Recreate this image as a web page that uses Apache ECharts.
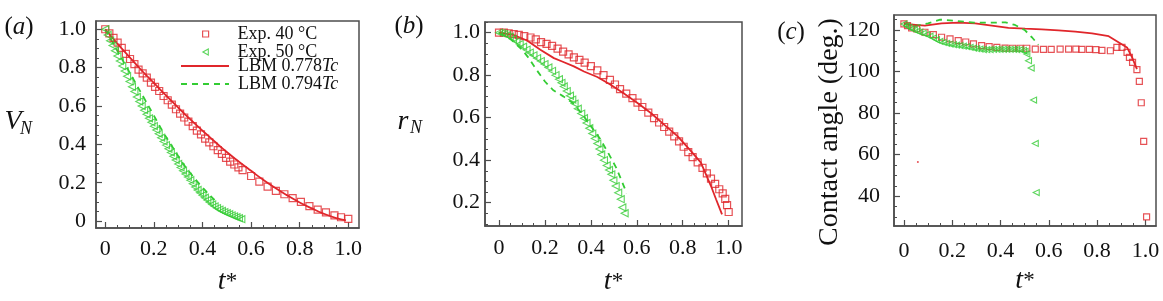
<!DOCTYPE html>
<html>
<head>
<meta charset="utf-8">
<script src="https://cdn.jsdelivr.net/npm/echarts@6/dist/echarts.min.js"></script>
<style>
html, body { margin: 0; padding: 0; background: #fff; }
#chart { width: 1163px; height: 301px; }
</style>
</head>
<body>
<div id="chart"></div>
<script>
// ---- data: [t*, value] ----
// (a) normalised volume
var volExp40 = [[0,1.0],[0.017,0.978],[0.034,0.955],[0.051,0.93],[0.068,0.903],[0.085,0.872],[0.102,0.845],[0.12,0.818],[0.137,0.79],[0.154,0.77],[0.171,0.748],[0.188,0.722],[0.205,0.70],[0.222,0.678],[0.24,0.652],[0.257,0.63],[0.274,0.607],[0.291,0.583],[0.308,0.56],[0.325,0.54],[0.342,0.518],[0.36,0.495],[0.377,0.472],[0.394,0.452],[0.411,0.43],[0.428,0.41],[0.445,0.39],[0.463,0.37],[0.48,0.35],[0.497,0.33],[0.514,0.31],[0.531,0.295],[0.548,0.28],[0.565,0.266],[0.6,0.235],[0.634,0.206],[0.668,0.18],[0.702,0.158],[0.737,0.14],[0.771,0.12],[0.805,0.1],[0.84,0.078],[0.874,0.06],[0.908,0.045],[0.943,0.03],[0.97,0.02],[1.0,0.012]];
var volExp50 = [[0,1.0],[0.01,0.97],[0.02,0.94],[0.03,0.915],[0.04,0.888],[0.05,0.86],[0.06,0.835],[0.07,0.808],[0.08,0.782],[0.09,0.755],[0.1,0.728],[0.11,0.70],[0.12,0.675],[0.13,0.647],[0.14,0.623],[0.15,0.60],[0.16,0.578],[0.17,0.557],[0.18,0.536],[0.19,0.515],[0.2,0.495],[0.21,0.475],[0.22,0.455],[0.23,0.435],[0.24,0.415],[0.25,0.396],[0.26,0.377],[0.27,0.358],[0.28,0.338],[0.29,0.318],[0.3,0.298],[0.31,0.28],[0.32,0.263],[0.33,0.246],[0.34,0.23],[0.35,0.213],[0.36,0.195],[0.37,0.178],[0.38,0.162],[0.39,0.148],[0.4,0.135],[0.41,0.122],[0.42,0.11],[0.43,0.098],[0.44,0.087],[0.45,0.077],[0.46,0.068],[0.47,0.06],[0.48,0.053],[0.49,0.047],[0.5,0.041],[0.51,0.036],[0.52,0.03],[0.53,0.025],[0.54,0.02],[0.55,0.015],[0.56,0.01]];
var volLbm778 = [[0,1],[0.05,0.925],[0.1,0.855],[0.15,0.785],[0.2,0.72],[0.25,0.655],[0.3,0.592],[0.35,0.53],[0.4,0.472],[0.45,0.415],[0.5,0.36],[0.55,0.31],[0.6,0.262],[0.65,0.215],[0.7,0.172],[0.75,0.133],[0.8,0.097],[0.85,0.066],[0.9,0.038],[0.95,0.016],[0.99,0.004]];
var volLbm794 = [[0,1],[0.04,0.91],[0.08,0.82],[0.12,0.73],[0.16,0.64],[0.2,0.55],[0.24,0.46],[0.28,0.38],[0.32,0.30],[0.36,0.235],[0.4,0.175],[0.45,0.11]];

// (b) normalised contact radius
var radExp40 = [[0,1.0],[0.021,1.0],[0.042,0.997],[0.064,0.993],[0.086,0.989],[0.11,0.984],[0.137,0.977],[0.16,0.968],[0.183,0.955],[0.207,0.947],[0.231,0.938],[0.255,0.925],[0.279,0.911],[0.303,0.898],[0.326,0.884],[0.35,0.872],[0.373,0.859],[0.4,0.842],[0.428,0.822],[0.455,0.8],[0.483,0.778],[0.505,0.756],[0.527,0.734],[0.554,0.713],[0.581,0.692],[0.603,0.671],[0.624,0.65],[0.65,0.624],[0.675,0.598],[0.697,0.577],[0.719,0.556],[0.741,0.534],[0.763,0.512],[0.784,0.488],[0.804,0.463],[0.824,0.438],[0.843,0.414],[0.865,0.389],[0.886,0.364],[0.905,0.338],[0.923,0.313],[0.941,0.288],[0.959,0.263],[0.974,0.244],[0.985,0.218],[0.993,0.188],[1.0,0.156]];
var radExp50 = [[0,1.0],[0.012,0.998],[0.023,0.994],[0.035,0.988],[0.047,0.981],[0.061,0.97],[0.076,0.958],[0.09,0.946],[0.105,0.934],[0.12,0.92],[0.134,0.906],[0.15,0.893],[0.166,0.88],[0.182,0.866],[0.198,0.852],[0.215,0.836],[0.231,0.82],[0.246,0.8],[0.261,0.781],[0.272,0.764],[0.282,0.747],[0.295,0.725],[0.309,0.703],[0.319,0.685],[0.329,0.666],[0.343,0.642],[0.358,0.619],[0.37,0.597],[0.381,0.575],[0.393,0.55],[0.406,0.525],[0.417,0.502],[0.428,0.478],[0.437,0.452],[0.445,0.427],[0.457,0.4],[0.469,0.375],[0.479,0.354],[0.489,0.333],[0.498,0.305],[0.508,0.278],[0.519,0.247],[0.53,0.216],[0.537,0.177],[0.547,0.15]];
var radLbm778 = [[0,1],[0.064,0.989],[0.122,0.963],[0.18,0.919],[0.239,0.88],[0.275,0.864],[0.326,0.841],[0.37,0.817],[0.428,0.791],[0.486,0.755],[0.544,0.713],[0.603,0.669],[0.661,0.622],[0.719,0.567],[0.777,0.513],[0.836,0.442],[0.879,0.388],[0.923,0.278],[0.945,0.216],[0.971,0.145]];
var radLbm794 = [[0,1.0],[0.05,0.97],[0.1,0.92],[0.13,0.88],[0.16,0.83],[0.2,0.77],[0.235,0.73],[0.28,0.70],[0.32,0.67],[0.36,0.62],[0.4,0.56],[0.44,0.50],[0.48,0.425],[0.51,0.365],[0.535,0.30],[0.556,0.245]];

// (c) contact angle, degrees
var angExp40 = [[0,122.9],[0.015,122.1],[0.032,121.0],[0.053,120.5],[0.087,118.9],[0.122,117.8],[0.156,116.5],[0.191,115.7],[0.225,114.9],[0.256,114.2],[0.288,113.3],[0.322,112.5],[0.353,112.0],[0.385,111.6],[0.419,111.3],[0.45,111.2],[0.481,111.2],[0.509,111.2],[0.544,110.8],[0.578,110.7],[0.61,110.7],[0.647,110.8],[0.682,110.8],[0.712,110.8],[0.737,110.7],[0.768,110.7],[0.795,110.5],[0.82,110.2],[0.855,110.0],[0.882,111.6],[0.903,111.6],[0.924,109.2],[0.934,106.8],[0.947,104.4],[0.965,100.9],[0.975,95.3],[0.983,85.0],[0.993,66.4],[1.005,30.1]];
var angExp50 = [[0,122.9],[0.011,122.0],[0.021,121.3],[0.032,120.6],[0.043,120.0],[0.055,119.4],[0.066,118.9],[0.08,118.4],[0.094,117.8],[0.108,117.0],[0.122,116.1],[0.135,115.3],[0.149,114.5],[0.163,114.0],[0.177,113.6],[0.191,113.2],[0.205,112.9],[0.218,112.7],[0.232,112.5],[0.246,112.2],[0.26,112.0],[0.274,111.6],[0.288,111.3],[0.301,111.0],[0.315,110.8],[0.329,110.6],[0.343,110.5],[0.357,110.6],[0.371,110.7],[0.385,110.7],[0.398,110.7],[0.412,110.7],[0.426,110.7],[0.44,110.7],[0.454,110.7],[0.467,110.6],[0.481,110.5],[0.495,110.2],[0.502,109.7],[0.509,108.4],[0.516,105.2],[0.527,101.7],[0.537,86.3],[0.544,65.4],[0.548,41.8]];
var angLbm778 = [[0,122.9],[0.087,122.1],[0.156,123.2],[0.225,123.5],[0.295,123.2],[0.364,122.1],[0.433,121.0],[0.502,120.6],[0.571,120.3],[0.64,119.8],[0.71,119.2],[0.779,118.4],[0.848,117.0],[0.924,111.6],[0.945,106.8],[0.965,101.2]];
var angLbm794 = [[0,122.9],[0.05,122.0],[0.1,123.2],[0.15,125.0],[0.22,124.3],[0.29,123.5],[0.38,123.5],[0.42,123.7],[0.46,122.4],[0.5,120.0],[0.53,116.5],[0.557,112.9]];
var angStray = [[0.058,56.5]];

// tick labels
var tTicks = [0, 0.2, 0.4, 0.6, 0.8, 1.0];
var volTicks = [0, 0.2, 0.4, 0.6, 0.8, 1.0];
var radTicks = [0.2, 0.4, 0.6, 0.8, 1.0];
var angTicks = [40, 60, 80, 100, 120];

var RED = '#e0262b';
var GREEN = '#33cc33';
var AXIS = '#4d4d4d';
var SERIF = 'Liberation Serif';
var TRI = 'path://M0,5L9,0L9,10Z';

function steps(from, to, step) {
    var out = [];
    for (var v = from; v <= to + 1e-9; v += step) out.push(Math.round(v * 1000) / 1000);
    return out;
}
function fmtDec(v) { return v === 0 ? '0' : v.toFixed(1); }
function fmtInt(v) { return String(Math.round(v)); }

var tName = '{t|t}{s|*}';
var tNameStyle = {
    rich: {
        t: { fontFamily: SERIF, fontStyle: 'italic', fontSize: 28, color: '#111' },
        s: { fontFamily: SERIF, fontSize: 23, color: '#111' }
    }
};

function mainAxis(pos, grid, range, ticks, fmt, margin) {
    return {
        type: 'value', gridIndex: grid, position: pos, min: range[0], max: range[1],
        axisLine: { show: true, onZero: false, lineStyle: { color: AXIS, width: 1.5 } },
        axisTick: { show: true, inside: true, length: 6, customValues: ticks, lineStyle: { color: AXIS, width: 1.2 } },
        axisLabel: { show: true, customValues: ticks, formatter: fmt, margin: margin,
            color: '#111', fontFamily: SERIF, fontSize: 22 },
        splitLine: { show: false }
    };
}
function minorAxis(pos, grid, range, ticks) {
    return {
        type: 'value', gridIndex: grid, position: pos, min: range[0], max: range[1],
        axisLine: { show: false, onZero: false },
        axisTick: { show: true, inside: true, length: 3, customValues: ticks, lineStyle: { color: AXIS, width: 1 } },
        axisLabel: { show: false },
        splitLine: { show: false }
    };
}

var xRangeA = [-0.038, 1.044], yRangeA = [-0.036, 1.043];
var xRangeB = [-0.061, 1.058], yRangeB = [0.09, 1.05];
var xRangeC = [-0.041, 1.044], yRangeC = [25.7, 127.2];

var xA = mainAxis('bottom', 0, xRangeA, tTicks, fmtDec, 10);
xA.name = tName; xA.nameLocation = 'middle'; xA.nameGap = 40; xA.nameTextStyle = tNameStyle;
var xB = mainAxis('bottom', 1, xRangeB, tTicks, fmtDec, 11);
xB.name = tName; xB.nameLocation = 'middle'; xB.nameGap = 42; xB.nameTextStyle = tNameStyle;
var xC = mainAxis('bottom', 2, xRangeC, tTicks, fmtDec, 14);
xC.name = tName; xC.nameLocation = 'middle'; xC.nameGap = 38; xC.nameTextStyle = tNameStyle;

var yA = mainAxis('left', 0, yRangeA, volTicks, fmtDec, 10);
var yB = mainAxis('left', 1, yRangeB, radTicks, fmtDec, 5);
var yC = mainAxis('left', 2, yRangeC, angTicks, fmtInt, 14);

function expSquares(name, data, xi, size) {
    return { name: name, type: 'scatter', xAxisIndex: xi, yAxisIndex: xi, data: data,
        symbol: 'rect', symbolSize: size, z: 3,
        itemStyle: { color: 'transparent', borderColor: RED, borderWidth: 1.2 } };
}
function expTriangles(name, data, xi, size) {
    return { name: name, type: 'scatter', xAxisIndex: xi, yAxisIndex: xi, data: data,
        symbol: TRI, symbolSize: size, z: 3,
        itemStyle: { color: 'transparent', borderColor: GREEN, borderWidth: 1.1 } };
}
function lbmLine(name, data, xi, color, dashed, smooth) {
    return { name: name, type: 'line', xAxisIndex: xi, yAxisIndex: xi, data: data,
        symbol: 'none', showSymbol: false, smooth: smooth, z: 2,
        itemStyle: { color: color },
        lineStyle: { color: color, width: 1.8, type: dashed ? [6, 5] : 'solid' } };
}

var option = {
    animation: false,
    backgroundColor: '#fff',
    grid: [
        { left: 96, top: 21, width: 263, height: 208, show: true, borderColor: AXIS, borderWidth: 1.5, backgroundColor: 'transparent' },
        { left: 485, top: 22, width: 257, height: 205, show: true, borderColor: AXIS, borderWidth: 1.5, backgroundColor: 'transparent' },
        { left: 894, top: 15, width: 262, height: 211, show: true, borderColor: AXIS, borderWidth: 1.5, backgroundColor: 'transparent' }
    ],
    xAxis: [
        xA, xB, xC,
        minorAxis('bottom', 0, xRangeA, steps(0, 1, 0.05)),
        minorAxis('bottom', 1, xRangeB, steps(0, 1, 0.05)),
        minorAxis('bottom', 2, xRangeC, steps(0, 1, 0.05))
    ],
    yAxis: [
        yA, yB, yC,
        minorAxis('left', 0, yRangeA, steps(0, 1, 0.05)),
        minorAxis('left', 1, yRangeB, steps(0.1, 1.05, 0.05)),
        minorAxis('left', 2, yRangeC, steps(30, 125, 5))
    ],
    legend: [
        { orient: 'vertical', left: 202, top: 25, padding: 0, itemGap: 0, itemWidth: 6, itemHeight: 6,
          selectedMode: false,
          data: [
            { name: 'Exp. 40 °C', icon: 'rect', itemStyle: { color: 'transparent', borderColor: RED, borderWidth: 1.2 } },
            { name: 'Exp. 50 °C', icon: TRI, itemStyle: { color: 'transparent', borderColor: GREEN, borderWidth: 1.1 } }
          ],
          formatter: function (n) { return '{g|}' + n; },
          textStyle: { fontFamily: SERIF, fontSize: 18, lineHeight: 16, color: '#111',
            rich: { g: { width: 24, height: 16 } } } },
        { orient: 'vertical', left: 180, top: 57, padding: 0, itemGap: 0, itemWidth: 48, itemHeight: 10,
          selectedMode: false,
          itemStyle: { opacity: 0 },
          data: ['LBM 0.778Tc', 'LBM 0.794Tc'],
          formatter: function (n) { return '{g|}' + n.replace('Tc', '{i|Tc}'); },
          textStyle: { fontFamily: SERIF, fontSize: 18, lineHeight: 16, color: '#111',
            rich: { g: { width: 4, height: 16 },
                    i: { fontFamily: SERIF, fontSize: 18, lineHeight: 16, fontStyle: 'italic', color: '#111' } } } }
    ],
    graphic: [
        { type: 'text', x: 19, y: 27, style: { text: '({i|a})', align: 'center', verticalAlign: 'middle',
            fontFamily: SERIF, fontSize: 25, fill: '#111',
            rich: { i: { fontFamily: SERIF, fontSize: 25, fontStyle: 'italic', fill: '#111' } } } },
        { type: 'text', x: 409, y: 26, style: { text: '({i|b})', align: 'center', verticalAlign: 'middle',
            fontFamily: SERIF, fontSize: 25, fill: '#111',
            rich: { i: { fontFamily: SERIF, fontSize: 25, fontStyle: 'italic', fill: '#111' } } } },
        { type: 'text', x: 791, y: 32, style: { text: '({i|c})', align: 'center', verticalAlign: 'middle',
            fontFamily: SERIF, fontSize: 25, fill: '#111',
            rich: { i: { fontFamily: SERIF, fontSize: 25, fontStyle: 'italic', fill: '#111' } } } },
        { type: 'text', x: 13, y: 122, style: { text: 'V', align: 'center', verticalAlign: 'middle',
            fontFamily: SERIF, fontSize: 28, fontStyle: 'italic', fill: '#111' } },
        { type: 'text', x: 26, y: 129, style: { text: 'N', align: 'center', verticalAlign: 'middle',
            fontFamily: SERIF, fontSize: 18, fontStyle: 'italic', fill: '#111' } },
        { type: 'text', x: 403, y: 122, style: { text: 'r', align: 'center', verticalAlign: 'middle',
            fontFamily: SERIF, fontSize: 28, fontStyle: 'italic', fill: '#111' } },
        { type: 'text', x: 416, y: 128, style: { text: 'N', align: 'center', verticalAlign: 'middle',
            fontFamily: SERIF, fontSize: 18, fontStyle: 'italic', fill: '#111' } },
        { type: 'text', x: 830, y: 132, rotation: Math.PI / 2, style: { text: 'Contact angle (deg.)',
            align: 'center', verticalAlign: 'middle', fontFamily: SERIF, fontSize: 28, fill: '#111' } }
    ],
    series: [
        lbmLine('LBM 0.778Tc', volLbm778, 0, RED, false, true),
        lbmLine('LBM 0.794Tc', volLbm794, 0, GREEN, true, true),
        expSquares('Exp. 40 °C', volExp40, 0, 7),
        expTriangles('Exp. 50 °C', volExp50, 0, 7),

        lbmLine('LBM 0.778Tc', radLbm778, 1, RED, false, false),
        lbmLine('LBM 0.794Tc', radLbm794, 1, GREEN, true, false),
        expSquares('Exp. 40 °C', radExp40, 1, 7),
        expTriangles('Exp. 50 °C', radExp50, 1, 7),

        lbmLine('LBM 0.778Tc', angLbm778, 2, RED, false, false),
        lbmLine('LBM 0.794Tc', angLbm794, 2, GREEN, true, false),
        expSquares('Exp. 40 °C', angExp40, 2, 6),
        expTriangles('Exp. 50 °C', angExp50, 2, 6),
        { type: 'scatter', xAxisIndex: 2, yAxisIndex: 2, data: angStray, symbolSize: 2, silent: true,
          itemStyle: { color: RED } }
    ]
};

var chart = echarts.init(document.getElementById('chart'));
chart.setOption(option);
window.addEventListener('resize', function () { chart.resize(); });
</script>
</body>
</html>
